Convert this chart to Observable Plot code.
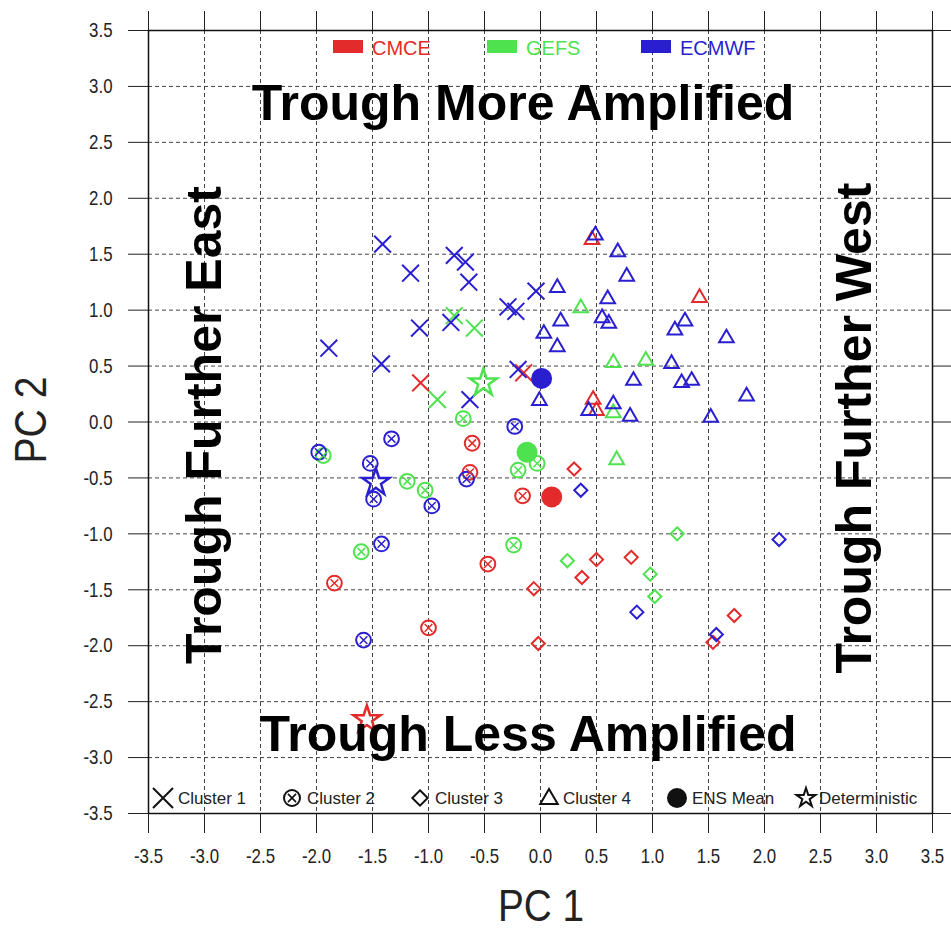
<!DOCTYPE html>
<html><head><meta charset="utf-8">
<script src="https://cdn.jsdelivr.net/npm/d3@7"></script>
<script src="https://cdn.jsdelivr.net/npm/@observablehq/plot@0.6"></script>
<style>html,body{margin:0;padding:0;background:#fff;overflow:hidden;} svg{display:block;}</style>
</head><body><div id="chart"></div>
<script>
// ---- data ----
const models = ["CMCE", "GEFS", "ECMWF"];
const modelColors = ["#e42b2b", "#4ee34e", "#2a1fd0"];
const tickValues = [-3.5, -3.0, -2.5, -2.0, -1.5, -1.0, -0.5, 0.0, 0.5, 1.0, 1.5, 2.0, 2.5, 3.0, 3.5];
const legendItems = ["Cluster 1", "Cluster 2", "Cluster 3", "Cluster 4", "ENS Mean", "Deterministic"];

// [PC1, PC2] pairs per model and cluster
const cmceC1 = [[-1.07, 0.35], [-0.15, 0.44]];
const gefsC1 = [[-0.77, 0.95], [-0.59, 0.84], [-0.92, 0.20]];
const ecmwfC1 = [[-1.41, 1.59], [-1.16, 1.33], [-0.77, 1.49], [-0.67, 1.43], [-0.64, 1.25], [-0.04, 1.17],
  [-0.29, 1.03], [-0.22, 0.99], [-1.08, 0.84], [-0.80, 0.89], [-1.89, 0.66], [-1.42, 0.52], [-0.20, 0.47], [-0.63, 0.20]];

const cmceC2 = [[-0.61, -0.19], [-0.63, -0.45], [-0.16, -0.66], [-0.47, -1.27], [-1.84, -1.44], [-1.00, -1.84]];
const gefsC2 = [[-0.69, 0.03], [-1.94, -0.30], [-0.20, -0.43], [-0.03, -0.37], [-1.19, -0.53], [-1.03, -0.61],
  [-1.60, -1.16], [-0.24, -1.10]];
const ecmwfC2 = [[-0.23, -0.04], [-1.33, -0.15], [-1.98, -0.27], [-1.52, -0.37], [-1.49, -0.69], [-0.97, -0.75],
  [-0.66, -0.51], [-1.42, -1.09], [-1.58, -1.95]];

const cmceC3 = [[0.30, -0.42], [0.50, -1.23], [0.81, -1.21], [0.37, -1.39], [-0.06, -1.49], [1.73, -1.73],
  [1.54, -1.97], [-0.02, -1.98]];
const gefsC3 = [[1.22, -1.00], [0.24, -1.24], [0.98, -1.36], [1.02, -1.56]];
const ecmwfC3 = [[0.36, -0.61], [2.13, -1.05], [0.86, -1.70], [1.57, -1.90]];

const cmceC4 = [[0.46, 1.63], [1.42, 1.11], [0.47, 0.20], [0.50, 0.10]];
const gefsC4 = [[0.36, 1.02], [0.65, 0.53], [0.94, 0.55], [0.65, 0.08], [0.68, -0.34]];
const ecmwfC4 = [[0.49, 1.67], [0.69, 1.52], [0.77, 1.30], [0.15, 1.20], [0.60, 1.10], [0.18, 0.90], [0.55, 0.93],
  [0.61, 0.88], [1.29, 0.90], [1.20, 0.82], [1.66, 0.75], [0.03, 0.79], [0.15, 0.67], [1.17, 0.52], [0.83, 0.37],
  [1.26, 0.35], [1.35, 0.37], [1.84, 0.23], [-0.01, 0.19], [0.43, 0.10], [0.65, 0.16], [0.80, 0.05], [1.52, 0.04]];

const ensMean = [[0.10, -0.67], [-0.12, -0.27], [0.01, 0.39]];       // CMCE, GEFS, ECMWF
const deterministic = [[-1.55, -2.66], [-0.51, 0.35], [-1.47, -0.54]]; // CMCE, GEFS, ECMWF

// ---- tables ----
const toRows = (model, pts) => pts.map(([pc1, pc2]) => ({model, pc1, pc2}));
const c1 = [...toRows("CMCE", cmceC1), ...toRows("GEFS", gefsC1), ...toRows("ECMWF", ecmwfC1)];
const c2 = [...toRows("CMCE", cmceC2), ...toRows("GEFS", gefsC2), ...toRows("ECMWF", ecmwfC2)];
const c3 = [...toRows("CMCE", cmceC3), ...toRows("GEFS", gefsC3), ...toRows("ECMWF", ecmwfC3)];
const c4 = [...toRows("CMCE", cmceC4), ...toRows("GEFS", gefsC4), ...toRows("ECMWF", ecmwfC4)];
const means = ensMean.map(([pc1, pc2], i) => ({model: models[i], pc1, pc2}));
const dets = deterministic.map(([pc1, pc2], i) => ({model: models[i], pc1, pc2}));

const fmt = d => d.toFixed(1);
const common = {x: "pc1", y: "pc2", stroke: "model", fill: "none", strokeWidth: 2};

const svg = Plot.plot({
  width: 951,
  height: 933,
  marginLeft: 148,
  marginRight: 19,
  marginTop: 30,
  marginBottom: 120,
  style: {fontFamily: "'Liberation Sans', Arial, Helvetica, sans-serif", fontSize: "17px", background: "#fff"},
  x: {domain: [-3.5, 3.5]},
  y: {domain: [-3.5, 3.5]},
  color: {domain: models, range: modelColors},
  marks: [
    Plot.gridX({ticks: tickValues, stroke: "#444", strokeOpacity: 1, strokeWidth: 1, strokeDasharray: "4,3"}),
    Plot.gridY({ticks: tickValues, stroke: "#444", strokeOpacity: 1, strokeWidth: 1, strokeDasharray: "4,3"}),
    Plot.axisX({anchor: "bottom", ticks: tickValues, tickSize: 20, tickPadding: 15, tickFormat: fmt, label: null, fontSize: 21, stroke: "#222", fill: "#222"}),
    Plot.axisX({anchor: "top", ticks: tickValues, tickSize: 20, tickFormat: () => "", label: null, stroke: "#222"}),
    Plot.axisY({anchor: "left", ticks: tickValues, tickSize: 20, tickPadding: 16, tickFormat: fmt, label: null, fontSize: 21, stroke: "#222", fill: "#222"}),
    Plot.axisY({anchor: "right", ticks: tickValues, tickSize: 20, tickFormat: () => "", label: null, stroke: "#222"}),
    Plot.frame({stroke: "#111", strokeWidth: 1.5}),
    // cluster 1: X
    Plot.dot(c1, {...common, symbol: "times", r: 7.7}),
    // cluster 2: circle with x
    Plot.dot(c2, {...common, symbol: "circle", r: 7.4}),
    Plot.dot(c2, {...common, symbol: "times", r: 3.6, strokeWidth: 1.5}),
    // cluster 3: diamond
    Plot.dot(c3, {...common, symbol: "diamond2", r: 5.9}),
    // cluster 4: triangle
    Plot.dot(c4, {...common, symbol: "triangle2", r: 7}),
    // ensemble means
    Plot.dot(means, {x: "pc1", y: "pc2", fill: "model", stroke: "none", r: 10.5}),
    // deterministic
    Plot.dot(dets, {...common, symbol: "star", r: 8.5, strokeWidth: 2.5})
  ]
});
document.getElementById("chart").appendChild(svg);

// ---- annotations / legends ----
const s = d3.select(svg);
const ff = "'Liberation Sans', Arial, Helvetica, sans-serif";

// condense tick labels (narrow face as in the original)
const squeeze = (node, k) => {
  const w = node.getComputedTextLength();
  if (w > 0) {
    node.setAttribute("textLength", (w * k).toFixed(1));
    node.setAttribute("lengthAdjust", "spacingAndGlyphs");
  }
};
s.selectAll('g[aria-label$="tick label"] text').each(function() {
  this.style.fontSize = "21px";
  squeeze(this, 0.8);
});

// top model legend
const topLegendX = [333, 487, 641];
models.forEach((m, i) => {
  s.append("rect").attr("x", topLegendX[i]).attr("y", 40).attr("width", 30).attr("height", 13).attr("fill", modelColors[i]);
  s.append("text").attr("x", topLegendX[i] + 39).attr("y", 55).attr("text-anchor", "start").attr("font-family", ff)
    .attr("font-size", 20).attr("fill", modelColors[i]).text(m);
});

// bottom symbol legend
const symX = [163, 292, 420, 549, 677, 806];
const txtX = [178, 307, 435, 563, 692, 819];
const sym = (type, size) => d3.symbol().type(type).size(size)();
const g = s.append("g").attr("fill", "none").attr("stroke", "#111").attr("stroke-width", 2);
g.append("path").attr("transform", `translate(${symX[0]},798)`).attr("d", sym(d3.symbolTimes, 263));
g.append("circle").attr("cx", symX[1]).attr("cy", 798).attr("r", 8);
g.append("path").attr("transform", `translate(${symX[1]},798)`).attr("d", sym(d3.symbolTimes, 45)).attr("stroke-width", 1.6);
g.append("path").attr("transform", `translate(${symX[2]},798)`).attr("d", sym(d3.symbolDiamond2, 150));
g.append("path").attr("transform", `translate(${symX[3]},799)`).attr("d", sym(d3.symbolTriangle2, 220));
g.append("circle").attr("cx", symX[4]).attr("cy", 798).attr("r", 10).attr("fill", "#111").attr("stroke", "none");
g.append("path").attr("transform", `translate(${symX[5]},798)`).attr("d", sym(d3.symbolStar, 112));
legendItems.forEach((t, i) => {
  s.append("text").attr("x", txtX[i]).attr("y", 804).attr("text-anchor", "start").attr("font-family", ff)
    .attr("font-size", 17).attr("fill", "#222").text(t);
});

// quadrant annotations
const bold = (x, y, t, rot) => {
  s.append("text").attr("transform", `translate(${x},${y})` + (rot ? " rotate(-90)" : ""))
    .attr("text-anchor", "middle").attr("font-family", ff).attr("font-weight", "bold").attr("font-size", 50)
    .attr("fill", "#000").text(t);
};
bold(523, 120, "Trough More Amplified", false);
bold(528, 751, "Trough Less Amplified", false);
bold(221, 425, "Trough Further East", true);
bold(871, 428, "Trough Further West", true);

// axis titles (tall, condensed face)
const t1 = s.append("text").attr("x", 541).attr("y", 921).attr("text-anchor", "middle").attr("font-family", ff)
  .attr("font-size", 44).attr("fill", "#222").text("PC 1");
squeeze(t1.node(), 0.88);
const t2 = s.append("text").attr("transform", "translate(46,420) rotate(-90)").attr("text-anchor", "middle").attr("font-family", ff)
  .attr("font-size", 45).attr("fill", "#222").text("PC 2");
squeeze(t2.node(), 0.87);
</script>
</body></html>
